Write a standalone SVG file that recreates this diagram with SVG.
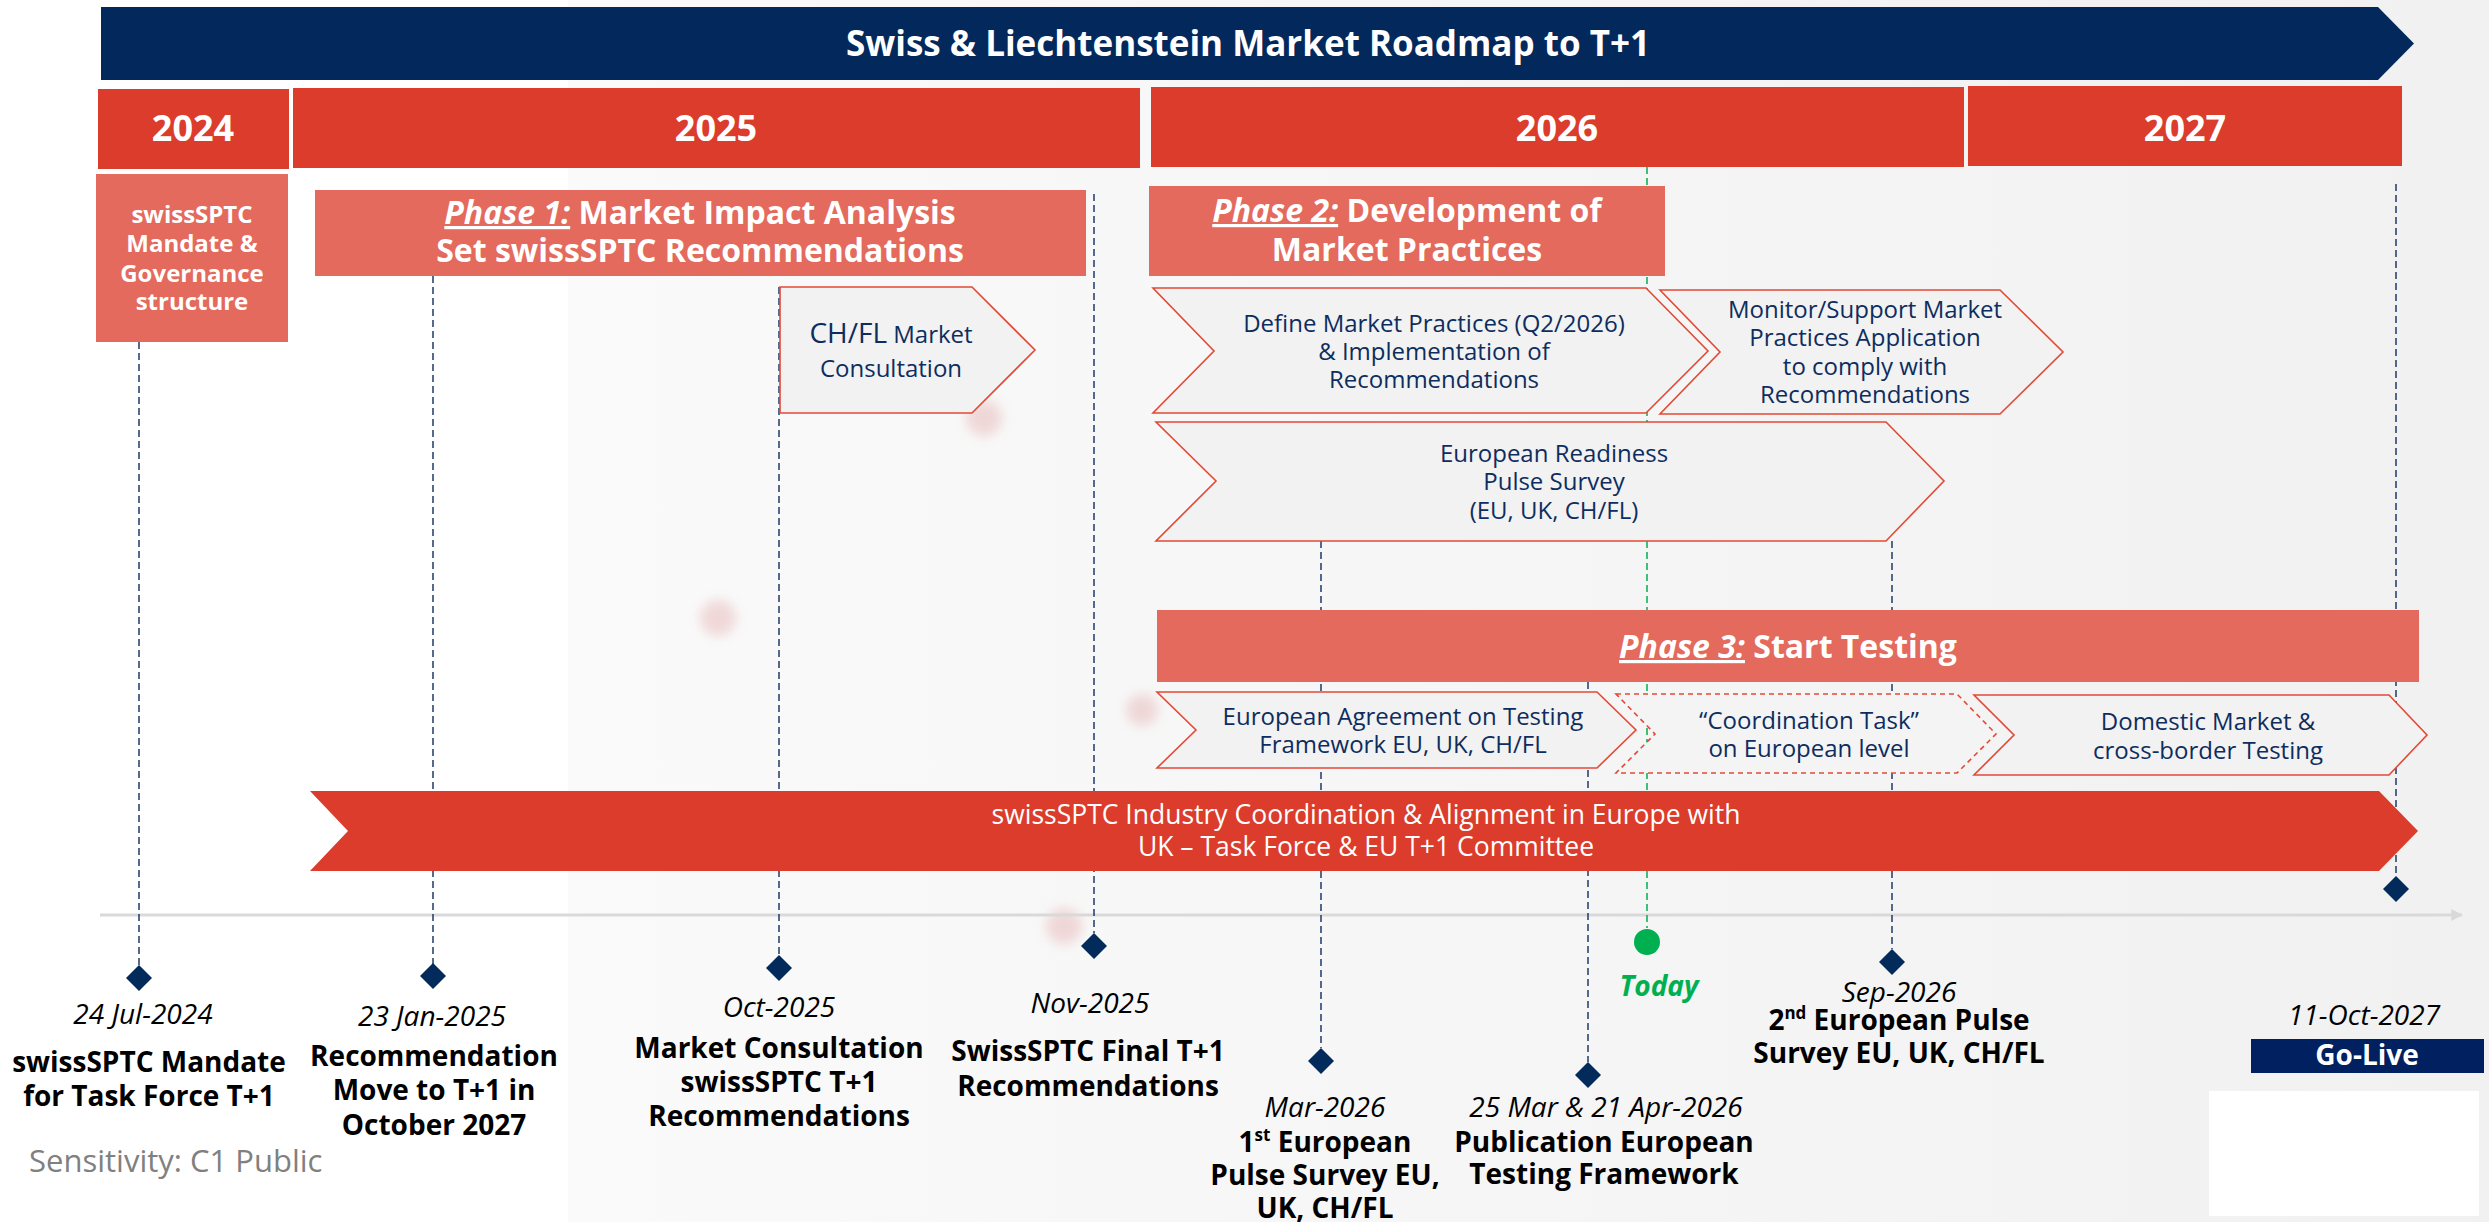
<svg xmlns="http://www.w3.org/2000/svg" width="2489" height="1222" viewBox="0 0 2489 1222">
<defs>
<style>
text { font-family: 'Open Sans','Noto Sans','Liberation Sans',sans-serif; }
.yr { font-size:36px; font-weight:700; fill:#fff; text-anchor:middle; }
.ph { font-size:32px; font-weight:700; fill:#fff; text-anchor:middle; }
.gv { font-size:24px; font-weight:700; fill:#fff; text-anchor:middle; }
.ch { font-size:24px; fill:#0E2D5E; text-anchor:middle; }
.ar { font-size:26.5px; fill:#fff; text-anchor:middle; }
.dt { font-size:28px; font-style:italic; fill:#000; text-anchor:middle; }
.lb { font-size:28px; font-weight:700; fill:#000; text-anchor:middle; }
.dash { stroke:#1F3A6A; stroke-width:1.5; stroke-dasharray:7 4; fill:none; }
.gdash { stroke:#00B050; stroke-width:1.5; stroke-dasharray:7 4; fill:none; }
.chev { fill:#F2F2F2; stroke:#E24A36; stroke-width:1.6; }
.chevd { fill:#F4F4F4; stroke:#E24A36; stroke-width:1.6; stroke-dasharray:5 4; }
.dia { fill:#022B5C; }
.year { fill:#DB3C2C; }
.phase { fill:#E36A5C; }
.u { font-style:italic; text-decoration:underline; }
</style>
<linearGradient id="bg" x1="0" y1="0" x2="1" y2="0">
<stop offset="0" stop-color="#FAFAFA"/>
<stop offset="1" stop-color="#F1F1F1"/>
</linearGradient>
<filter id="blur" x="-1" y="-1" width="3" height="3"><feGaussianBlur stdDeviation="6"/></filter>
<marker id="arr" viewBox="0 0 10 10" refX="9" refY="5" markerWidth="4" markerHeight="5" orient="auto" markerUnits="strokeWidth">
<path d="M0,0 L10,5 L0,10 z" fill="#D9D9D9"/>
</marker>
</defs>

<rect x="0" y="0" width="2489" height="1222" fill="#FFFFFF"/>
<rect x="568" y="0" width="1921" height="1222" fill="url(#bg)"/>
<g opacity="0.35" filter="url(#blur)" fill="#E09A9A">
<circle cx="984" cy="418" r="18"/>
<circle cx="718" cy="618" r="18"/>
<circle cx="1142" cy="710" r="16"/>
<circle cx="1064" cy="926" r="18"/>
</g>

<!-- connectors -->
<g id="connectors">
<line x1="100" y1="915" x2="2462" y2="915" stroke="#D9D9D9" stroke-width="3" marker-end="url(#arr)"/>
<line class="dash" x1="139" y1="342" x2="139" y2="966"/>
<line class="dash" x1="433" y1="276" x2="433" y2="964"/>
<line class="dash" x1="779" y1="287" x2="779" y2="955"/>
<line class="dash" x1="1094" y1="194" x2="1094" y2="933"/>
<line class="dash" x1="1321" y1="541" x2="1321" y2="1048"/>
<line class="dash" x1="1588" y1="682" x2="1588" y2="1062"/>
<line class="gdash" x1="1647" y1="167" x2="1647" y2="928"/>
<line class="dash" x1="1892" y1="541" x2="1892" y2="949"/>
<line class="dash" x1="2396" y1="184" x2="2396" y2="876"/>
</g>

<g id="title">
<path d="M101,7 L2378,7 L2414,43.5 L2378,80 L101,80 Z" fill="#03295C"/>
<text x="1248" y="56" font-size="35" font-weight="700" fill="#fff" text-anchor="middle">Swiss &amp; Liechtenstein Market Roadmap to T+1</text>
</g>

<g id="year-2024"><rect class="year" x="98" y="89" width="191" height="80"/><text class="yr" x="193" y="141">2024</text></g>
<g id="year-2025"><rect class="year" x="293" y="88" width="847" height="80"/><text class="yr" x="716" y="141">2025</text></g>
<g id="year-2026"><rect class="year" x="1151" y="87" width="813" height="80"/><text class="yr" x="1557" y="141">2026</text></g>
<g id="year-2027"><rect class="year" x="1968" y="86" width="434" height="80"/><text class="yr" x="2185" y="141">2027</text></g>

<g id="governance">
<rect class="phase" x="96" y="174" width="192" height="168"/>
<text class="gv" x="192" y="223">swissSPTC</text>
<text class="gv" x="192" y="252">Mandate &amp;</text>
<text class="gv" x="192" y="282">Governance</text>
<text class="gv" x="192" y="310">structure</text>
</g>

<g id="phase1">
<rect class="phase" x="315" y="190" width="771" height="86"/>
<text class="ph" x="700" y="224"><tspan class="u">Phase 1:</tspan> Market Impact Analysis</text>
<text class="ph" x="700" y="262">Set swissSPTC Recommendations</text>
</g>

<g id="phase2">
<rect class="phase" x="1149" y="186" width="516" height="90"/>
<text class="ph" x="1407" y="222"><tspan class="u">Phase 2:</tspan> Development of</text>
<text class="ph" x="1407" y="261">Market Practices</text>
</g>

<g id="consultation">
<path class="chev" d="M780,287 L972,287 L1035,350 L972,413 L780,413 Z"/>
<text class="ch" x="891" y="343"><tspan font-size="28">CH/FL</tspan> Market</text>
<text class="ch" x="891" y="377">Consultation</text>
</g>

<g id="define-practices">
<path class="chev" d="M1153,288 L1646,288 L1708,351 L1646,413 L1153,413 L1214,351 Z"/>
<text class="ch" x="1434" y="332">Define Market Practices (Q2/2026)</text>
<text class="ch" x="1434" y="360">&amp; Implementation of</text>
<text class="ch" x="1434" y="388">Recommendations</text>
</g>

<g id="monitor-support">
<path class="chev" d="M1660,290 L2000,290 L2063,352 L2000,414 L1660,414 L1720,352 Z"/>
<text class="ch" x="1865" y="318">Monitor/Support Market</text>
<text class="ch" x="1865" y="346">Practices Application</text>
<text class="ch" x="1865" y="375">to comply with</text>
<text class="ch" x="1865" y="403">Recommendations</text>
</g>

<g id="readiness-survey">
<path class="chev" d="M1156,422 L1886,422 L1944,481 L1886,541 L1156,541 L1216,481 Z"/>
<text class="ch" x="1554" y="462">European Readiness</text>
<text class="ch" x="1554" y="490">Pulse Survey</text>
<text class="ch" x="1554" y="519">(EU, UK, CH/FL)</text>
</g>

<g id="phase3">
<rect class="phase" x="1157" y="610" width="1262" height="72"/>
<text class="ph" x="1788" y="658"><tspan class="u">Phase 3:</tspan> Start Testing</text>
</g>

<g id="agreement-testing">
<path class="chev" d="M1157,692 L1597,692 L1636,730 L1597,768 L1157,768 L1196,730 Z"/>
<text class="ch" x="1403" y="725">European Agreement on Testing</text>
<text class="ch" x="1403" y="753">Framework EU, UK, CH/FL</text>
</g>

<g id="coordination-task">
<path class="chevd" d="M1616,694 L1957,694 L1996,734 L1957,773 L1616,773 L1655,734 Z"/>
<text class="ch" x="1809" y="729">“Coordination Task”</text>
<text class="ch" x="1809" y="757">on European level</text>
</g>

<g id="domestic-testing">
<path class="chev" d="M1974,695 L2389,695 L2427,735 L2389,775 L1974,775 L2014,735 Z"/>
<text class="ch" x="2208" y="730">Domestic Market &amp;</text>
<text class="ch" x="2208" y="759">cross-border Testing</text>
</g>

<g id="industry-coordination">
<path d="M310,791 L2379,791 L2418,831 L2379,871 L310,871 L348,831 Z" fill="#DB3C2C"/>
<text class="ar" x="1366" y="824">swissSPTC Industry Coordination &amp; Alignment in Europe with</text>
<text class="ar" x="1366" y="856">UK – Task Force &amp; EU T+1 Committee</text>
</g>

<g id="m-2024-07">
<path class="dia" d="M139,965 L152,978 L139,991 L126,978 Z"/>
<text class="dt" x="143" y="1024">24 Jul-2024</text>
<text class="lb" x="149" y="1072">swissSPTC Mandate</text>
<text class="lb" x="149" y="1106">for Task Force T+1</text>
</g>

<g id="m-2025-01">
<path class="dia" d="M433,963 L446,976 L433,989 L420,976 Z"/>
<text class="dt" x="432" y="1026">23 Jan-2025</text>
<text class="lb" x="434" y="1066">Recommendation</text>
<text class="lb" x="434" y="1100">Move to T+1 in</text>
<text class="lb" x="434" y="1135">October 2027</text>
</g>

<g id="m-2025-10">
<path class="dia" d="M779,955 L792,968 L779,981 L766,968 Z"/>
<text class="dt" x="779" y="1017">Oct-2025</text>
<text class="lb" x="779" y="1058">Market Consultation</text>
<text class="lb" x="779" y="1092">swissSPTC T+1</text>
<text class="lb" x="779" y="1126">Recommendations</text>
</g>

<g id="m-2025-11">
<path class="dia" d="M1094,933 L1107,946 L1094,959 L1081,946 Z"/>
<text class="dt" x="1090" y="1013">Nov-2025</text>
<text class="lb" x="1088" y="1061">SwissSPTC Final T+1</text>
<text class="lb" x="1088" y="1096">Recommendations</text>
</g>

<g id="m-2026-03">
<path class="dia" d="M1321,1048 L1334,1061 L1321,1074 L1308,1061 Z"/>
<text class="dt" x="1325" y="1117">Mar-2026</text>
<text class="lb" x="1325" y="1152">1<tspan dy="-11" font-size="17">st</tspan><tspan dy="11"> European</tspan></text>
<text class="lb" x="1325" y="1185">Pulse Survey EU,</text>
<text class="lb" x="1325" y="1218">UK, CH/FL</text>
</g>

<g id="m-2026-04">
<path class="dia" d="M1588,1062 L1601,1075 L1588,1088 L1575,1075 Z"/>
<text class="dt" x="1606" y="1117">25 Mar &amp; 21 Apr-2026</text>
<text class="lb" x="1604" y="1152">Publication European</text>
<text class="lb" x="1604" y="1184">Testing Framework</text>
</g>

<g id="today">
<circle cx="1647" cy="942" r="13" fill="#00B050"/>
<text x="1659" y="996" font-size="28" font-weight="700" font-style="italic" fill="#00B050" text-anchor="middle">Today</text>
</g>

<g id="m-2026-09">
<path class="dia" d="M1892,949 L1905,962 L1892,975 L1879,962 Z"/>
<text class="dt" x="1899" y="1002">Sep-2026</text>
<text class="lb" x="1899" y="1030">2<tspan dy="-11" font-size="17">nd</tspan><tspan dy="11"> European Pulse</tspan></text>
<text class="lb" x="1899" y="1063">Survey EU, UK, CH/FL</text>
</g>

<g id="m-2027-10">
<path class="dia" d="M2396,876 L2409,889 L2396,902 L2383,889 Z"/>
<text class="dt" x="2364" y="1025">11-Oct-2027</text>
<rect x="2251" y="1039" width="233" height="34" fill="#002060"/>
<text x="2367" y="1065" font-size="28" font-weight="700" fill="#fff" text-anchor="middle">Go-Live</text>
</g>

<rect x="2209" y="1091" width="270" height="125" fill="#FFFFFF"/>
<text x="29" y="1172" font-size="31" fill="#808080">Sensitivity: C1 Public</text>
</svg>
